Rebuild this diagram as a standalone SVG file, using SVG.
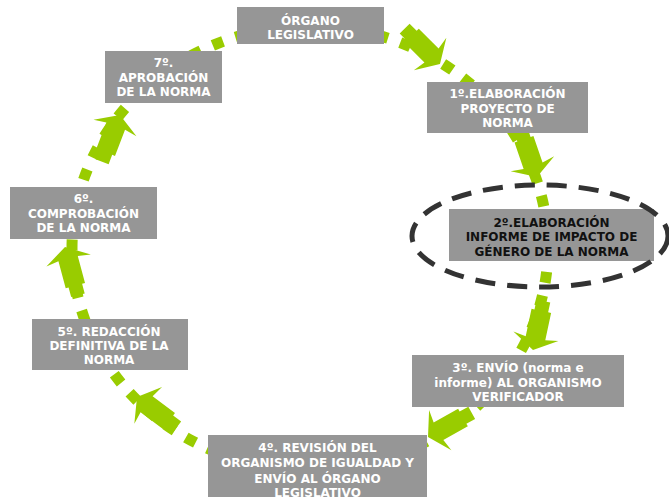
<svg xmlns="http://www.w3.org/2000/svg" width="669" height="497" viewBox="0 0 669 497">
<style>
.box{fill:#969696}
.t{font-family:"DejaVu Sans","Verdana",sans-serif;font-weight:bold;font-size:12px;fill:#ffffff;text-anchor:middle}
.dk{fill:#111111}
.arr{fill:#99cc00}
</style>
<defs>
<path id="ar" d="M0,0 L-14,-23 L-12,-10 L-40,-10 L-40,-7 L-50,-7 L-50,7 L-40,7 L-40,10 L-12,10 L-14,23 Z"/>
</defs>
<rect width="669" height="497" fill="#ffffff"/>
<g id="connectors">
<ellipse cx="310" cy="248" rx="238" ry="222" fill="none" stroke="#99cc00" stroke-width="11" stroke-dasharray="11 13"/>
<use href="#ar" class="arr" transform="translate(440,64) rotate(45)"/>
<use href="#ar" class="arr" transform="translate(537,177) rotate(71)"/>
<use href="#ar" class="arr" transform="translate(533,350) rotate(102)"/>
<use href="#ar" class="arr" transform="translate(428,437) rotate(151)"/>
<use href="#ar" class="arr" transform="translate(137,397) rotate(217)"/>
<use href="#ar" class="arr" transform="translate(65,247) rotate(255)"/>
<use href="#ar" class="arr" transform="translate(120,115) rotate(291)"/>
</g>
<g id="organo">
<rect class="box" x="237" y="7" width="147" height="37"/>
<text class="t" x="310.5" y="25">ÓRGANO</text>
<text class="t" x="310.5" y="38.5">LEGISLATIVO</text>
</g>
<g id="paso1">
<rect class="box" x="427" y="82" width="161" height="51"/>
<text class="t" x="507.5" y="98.3">1º.ELABORACIÓN</text>
<text class="t" x="507.5" y="112.7">PROYECTO DE</text>
<text class="t" x="507.5" y="127.2">NORMA</text>
</g>
<g id="paso2">
<rect class="box" x="449" y="209" width="205" height="52"/>
<text class="t dk" x="551.5" y="226.7">2º.ELABORACIÓN</text>
<text class="t dk" x="551.5" y="241">INFORME DE IMPACTO DE</text>
<text class="t dk" x="551.5" y="255.5">GÉNERO DE LA NORMA</text>
<ellipse cx="540" cy="236" rx="128" ry="51" fill="none" stroke="#333333" stroke-width="5" stroke-dasharray="20 12"/>
</g>
<g id="paso3">
<rect class="box" x="412" y="355" width="212" height="52"/>
<text class="t" x="518" y="372.3">3º. ENVÍO (norma e</text>
<text class="t" x="518" y="386.7">informe) AL ORGANISMO</text>
<text class="t" x="518" y="401">VERIFICADOR</text>
</g>
<g id="paso4">
<rect class="box" x="208" y="435" width="219" height="62"/>
<text class="t" x="317.5" y="451.5">4º. REVISIÓN DEL</text>
<text class="t" x="317.5" y="467">ORGANISMO DE IGUALDAD Y</text>
<text class="t" x="317.5" y="482.5">ENVÍO AL ÓRGANO</text>
<text class="t" x="317.5" y="497">LEGISLATIVO</text>
</g>
<g id="paso5">
<rect class="box" x="32" y="319" width="156" height="51"/>
<text class="t" x="109" y="335.7">5º. REDACCIÓN</text>
<text class="t" x="109" y="350">DEFINITIVA DE LA</text>
<text class="t" x="109" y="364.3">NORMA</text>
</g>
<g id="paso6">
<rect class="box" x="10" y="187" width="147" height="52"/>
<text class="t" x="83.5" y="203.3">6º.</text>
<text class="t" x="83.5" y="217.5">COMPROBACIÓN</text>
<text class="t" x="83.5" y="231.7">DE LA NORMA</text>
</g>
<g id="paso7">
<rect class="box" x="105" y="51" width="117" height="52"/>
<text class="t" x="163.5" y="66.7">7º.</text>
<text class="t" x="163.5" y="81.7">APROBACIÓN</text>
<text class="t" x="163.5" y="96">DE LA NORMA</text>
</g>
</svg>
